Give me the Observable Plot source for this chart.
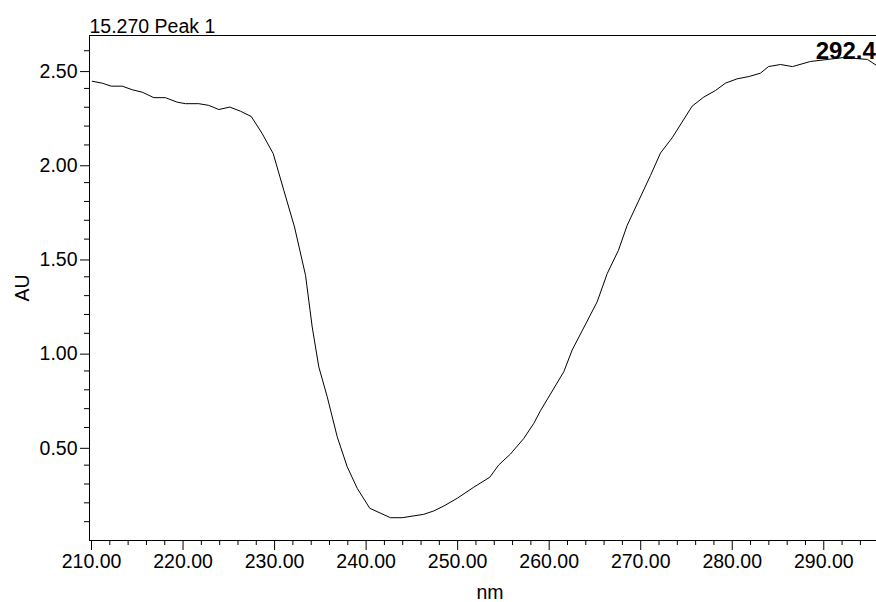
<!DOCTYPE html>
<html>
<head>
<meta charset="utf-8">
<script src="https://cdn.jsdelivr.net/npm/d3@7"></script>
<script src="https://cdn.jsdelivr.net/npm/@observablehq/plot@0.6"></script>
<style>
  html, body { margin: 0; padding: 0; background: #fff; }
  #chart svg { display: block; }
</style>
</head>
<body>
<div id="chart"></div>
<script>
// Spectrum
const wavelength = [210.08, 211.17, 212.15, 213.35, 214.45, 215.54, 216.81, 218.08, 219.36, 220.27,
  221.72, 222.81, 223.91, 225.11, 226.28, 227.45, 228.65, 229.85, 231.01, 232.18,
  233.38, 234.11, 234.83, 235.75, 236.84, 237.93, 239.03, 240.40, 242.66, 243.94,
  246.30, 247.39, 248.49, 249.95, 251.76, 253.51, 254.49, 255.77, 257.23, 258.32,
  259.05, 261.60, 262.51, 265.24, 266.34, 267.57, 268.52, 271.07, 272.16, 273.44,
  275.62, 276.89, 278.17, 279.26, 280.54, 281.81, 283.08, 283.96, 285.27, 286.58,
  288.54, 292.15, 294.77, 295.76];
const absorbance = [2.438, 2.428, 2.412, 2.412, 2.393, 2.380, 2.351, 2.351, 2.327, 2.319,
  2.319, 2.310, 2.288, 2.301, 2.279, 2.251, 2.160, 2.054, 1.859, 1.664,
  1.408, 1.134, 0.922, 0.763, 0.551, 0.392, 0.277, 0.171, 0.121, 0.121,
  0.139, 0.157, 0.183, 0.224, 0.283, 0.336, 0.401, 0.459, 0.542, 0.622,
  0.689, 0.896, 1.011, 1.267, 1.417, 1.541, 1.673, 1.938, 2.057, 2.138,
  2.306, 2.354, 2.389, 2.428, 2.451, 2.463, 2.481, 2.516, 2.527, 2.516,
  2.543, 2.564, 2.554, 2.522];

const xDomain = [209.78, 295.76];
const yDomain = [0, 2.681];
const xMajorTicks = [210, 220, 230, 240, 250, 260, 270, 280, 290];
const xMinorTicks = [212, 214, 216, 218, 222, 224, 226, 228, 232, 234, 236, 238, 242, 244, 246, 248,
  252, 254, 256, 258, 262, 264, 266, 268, 272, 274, 276, 278, 282, 284, 286, 288, 292, 294];
const yMajorTicks = [0.5, 1.0, 1.5, 2.0, 2.5];
const yMinorTicks = [0.1, 0.2, 0.3, 0.4, 0.6, 0.7, 0.8, 0.9, 1.1, 1.2, 1.3, 1.4, 1.6, 1.7, 1.8, 1.9,
  2.1, 2.2, 2.3, 2.4, 2.6];
const titleText = ["15.270 Peak 1"];
const peakLabel = [{wl: 292.4, text: "292.4"}];
const xLabel = ["nm"];
const yLabel = ["AU"];

const data = wavelength.map((w, i) => ({w, a: absorbance[i]}));
const fmt = d3.format(".2f");
const FONT = "'Liberation Sans', Arial, Helvetica, sans-serif";
const FS = 19.5;

const chart = Plot.plot({
  width: 876,
  height: 602,
  marginLeft: 89,
  marginRight: 0,
  marginTop: 35,
  marginBottom: 62,
  style: {fontFamily: FONT, fontSize: FS + "px", color: "black", background: "white"},
  x: {domain: xDomain, axis: null},
  y: {domain: yDomain, axis: null},
  marks: [
    Plot.axisX(xMajorTicks, {tickSize: 10, tickPadding: 4, tickFormat: fmt, fontSize: FS, label: null, stroke: "black", color: "black"}),
    Plot.axisX(xMinorTicks, {tickSize: 5, tickFormat: () => "", label: null, stroke: "black"}),
    Plot.axisY(yMajorTicks, {tickSize: 9, tickPadding: 3, tickFormat: fmt, fontSize: FS, label: null, dy: 2, stroke: "black"}),
    Plot.axisY(yMinorTicks, {tickSize: 5, tickFormat: () => "", label: null, stroke: "black"}),
    Plot.ruleX([xDomain[0]], {stroke: "black", strokeWidth: 1}),
    Plot.ruleY([yDomain[0]], {stroke: "black", strokeWidth: 1}),
    Plot.ruleY([yDomain[1]], {stroke: "black", strokeWidth: 1}),
    Plot.line(data, {x: "w", y: "a", stroke: "black", strokeWidth: 1}),
    Plot.text(titleText, {text: d => d, frameAnchor: "top-left", textAnchor: "start", lineAnchor: "bottom", dx: 0, dy: -3, fontSize: FS, fill: "black"}),
    Plot.text(peakLabel, {x: "wl", text: "text", frameAnchor: "top", textAnchor: "middle", lineAnchor: "bottom", dy: 23, fontSize: 24, fontWeight: "bold", fill: "black"}),
    Plot.text(xLabel, {text: d => d, frameAnchor: "bottom", lineAnchor: "bottom", dx: 7, dy: 58, fontSize: FS, fill: "black"}),
    Plot.text(yLabel, {text: d => d, frameAnchor: "left", rotate: -90, lineAnchor: "bottom", textAnchor: "middle", dx: -61, fontSize: FS, fill: "black"})
  ]
});
document.getElementById("chart").appendChild(chart);
</script>
</body>
</html>
